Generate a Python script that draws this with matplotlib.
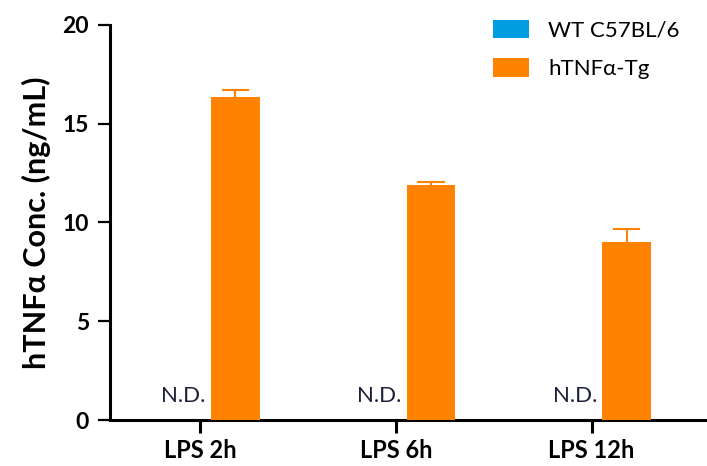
import numpy as np
import matplotlib.pyplot as plt

plt.rcParams['font.family'] = ['Lato', 'DejaVu Sans']

groups = ["LPS 2h", "LPS 6h", "LPS 12h"]
wt_values = [0, 0, 0]
tg_values = [16.35, 11.9, 9.03]
tg_err = [0.35, 0.15, 0.64]

blue = '#009ee0'
orange = '#ff8200'

x = np.arange(len(groups))
w = 0.25

fig = plt.figure(figsize=(7.07, 4.66), dpi=100)
ax = fig.add_axes([0.1556, 0.0987, 0.8444, 0.8477])

ax.bar(x - 0.07, wt_values, w, color=blue, label='WT C57BL/6', zorder=3)
ax.bar(x + 0.18, tg_values, w, color=orange, label='hTNFα-Tg', zorder=3)

# upper error whisker + cap only
tg_top = np.array(tg_values) + np.array(tg_err)
ax.vlines(x + 0.18, tg_values, tg_top, color=orange, lw=1.5, zorder=2)
ax.hlines(tg_top, x + 0.18 - 0.07, x + 0.18 + 0.07, color=orange, lw=1.5, zorder=2)

for xi, v in zip(x, wt_values):
    ax.text(xi - 0.084, v + 0.9, 'N.D.', ha='center', va='baseline',
            fontsize=16, color='#1c2036')

ax.set_xlim(-0.46, 2.59)
ax.set_ylim(0, 20)
ax.set_yticks([0, 5, 10, 15, 20])
ax.set_xticks(x)
ax.set_xticklabels(groups, fontweight='bold')
ax.tick_params(axis='x', length=9, width=2.2, labelsize=17, pad=5)
ax.tick_params(axis='y', length=9, width=1.6, labelsize=16.5, pad=6)
for lab in ax.get_yticklabels():
    lab.set_fontweight('bold')

ax.spines['top'].set_visible(False)
ax.spines['right'].set_visible(False)
ax.spines['left'].set_linewidth(2.2)
ax.spines['bottom'].set_linewidth(2.2)

ax.set_ylabel('hTNFα Conc. (ng/mL)', fontsize=22, fontweight='bold', labelpad=8)

ax.legend(loc='upper left', bbox_to_anchor=(0.697, 0.958), bbox_transform=fig.transFigure,
          frameon=False, fontsize=16, borderpad=0, borderaxespad=0,
          handlelength=1.62, handleheight=0.9, handletextpad=0.86, labelspacing=0.8)

plt.savefig('out.png', dpi=100)
